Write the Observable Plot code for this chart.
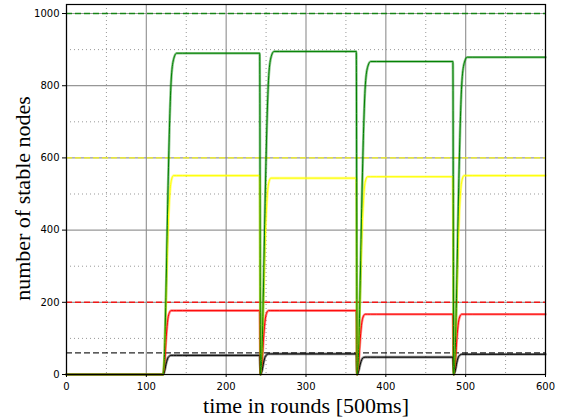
<!DOCTYPE html>
<html>
<head>
<meta charset="utf-8">
<script src="https://cdn.jsdelivr.net/npm/d3@7"></script>
<script src="https://cdn.jsdelivr.net/npm/@observablehq/plot@0.6"></script>
<style>
  html, body { margin: 0; padding: 0; background: #fff; }
  #chart svg { display: block; }
</style>
</head>
<body>
<div id="chart"></div>
<script>
// ---- data ----
const times = [
  0, 121, 123, 125, 127, 129, 131, 134, 138, 145, 242,
  243, 245, 247, 249, 251, 253, 256, 260, 267, 363,
  364, 366, 368, 370, 372, 374, 377, 381, 388, 484,
  485, 487, 489, 491, 493, 495, 498, 502, 509, 600
];
const greenVals = [
  0, 0, 71, 267, 498, 685, 810, 872, 890, 890, 890,
  0, 72, 269, 501, 689, 814, 877, 895, 895, 895,
  0, 69, 260, 486, 668, 789, 850, 867, 867, 867,
  0, 70, 264, 492, 677, 800, 861, 879, 879, 879
];
const yellowVals = [
  0, 0, 66, 231, 386, 485, 534, 551, 551, 551, 551,
  0, 65, 228, 381, 479, 528, 544, 544, 544, 544,
  0, 66, 230, 384, 482, 532, 548, 548, 548, 548,
  0, 66, 231, 386, 485, 534, 551, 551, 551, 551
];
const redVals = [
  0, 0, 35, 106, 154, 172, 177, 177, 177, 177, 177,
  0, 35, 106, 154, 172, 177, 177, 177, 177, 177,
  0, 33, 100, 145, 162, 167, 167, 167, 167, 167,
  0, 33, 100, 145, 162, 167, 167, 167, 167, 167
];
const blackVals = [
  0, 0, 11, 32, 46, 51, 53, 53, 53, 53, 53,
  0, 11, 34, 50, 55, 57, 57, 57, 57, 57,
  0, 10, 29, 42, 47, 48, 48, 48, 48, 48,
  0, 11, 34, 49, 54, 56, 56, 56, 56, 56
];
const seriesNames = ["black", "red", "yellow", "green"];
const referenceLevels = [60, 200, 600, 1000];   // same order as seriesNames
const xMajorTicks = [0, 100, 200, 300, 400, 500, 600];
const xMinorTicks = [50, 150, 250, 350, 450, 550];
const yMajorTicks = [0, 200, 400, 600, 800, 1000];
const yMinorTicks = [100, 300, 500, 700, 900];
const xLabel = "time in rounds [500ms]";
const yLabel = "number of stable nodes";

// ---- build tables ----
const valueSets = [blackVals, redVals, yellowVals, greenVals];
const rows = [];
seriesNames.forEach((s, k) => {
  times.forEach((t, i) => rows.push({t, v: valueSets[k][i], s}));
});
const refRows = seriesNames.map((s, k) => ({s, v: referenceLevels[k]}));

const colorRange = ["#000000", "#ff0000", "#bfbf00", "#008000"];
const serif = "'Liberation Serif', 'DejaVu Serif', serif";

const chart = Plot.plot({
  width: 566,
  height: 418,
  marginLeft: 66,
  marginRight: 21,
  marginTop: 4,
  marginBottom: 44,
  style: {fontFamily: "'DejaVu Sans', sans-serif", fontSize: "10px", color: "#000", background: "#fff"},
  x: {domain: [0, 600]},
  y: {domain: [0, 1025]},
  color: {type: "ordinal", domain: seriesNames, range: colorRange},
  marks: [
    // grid
    Plot.ruleX(xMinorTicks, {stroke: "#999", strokeWidth: 1, strokeDasharray: "1,3"}),
    Plot.ruleY(yMinorTicks, {stroke: "#999", strokeWidth: 1, strokeDasharray: "1,3"}),
    Plot.ruleX(xMajorTicks, {stroke: "#8c8c8c", strokeWidth: 1.2, strokeOpacity: 0.9}),
    Plot.ruleY(yMajorTicks, {stroke: "#8c8c8c", strokeWidth: 1.2, strokeOpacity: 0.9}),
    // reference dashed levels
    Plot.ruleY(refRows, {y: "v", stroke: "s", strokeWidth: 1.4, strokeDasharray: "6,3", strokeOpacity: 0.85}),
    // thick light lines + thin dark lines
    Plot.line(rows, {x: "t", y: "v", z: "s", stroke: "s", strokeWidth: 2.6, strokeOpacity: 0.45, curve: "monotone-x"}),
    Plot.line(rows, {x: "t", y: "v", z: "s", stroke: "s", strokeWidth: 1, curve: "monotone-x"}),
    // frame
    Plot.frame({stroke: "#000", strokeWidth: 1.2}),
    // axes
    Plot.axisX({ticks: xMajorTicks, tickSize: 3, tickPadding: 5, label: null, tickFormat: d3.format("d")}),
    Plot.axisY({ticks: yMajorTicks, tickSize: 4, tickPadding: 3, label: null, tickFormat: d3.format("d")}),
    // axis titles
    Plot.text([xLabel], {frameAnchor: "bottom", lineAnchor: "middle", textAnchor: "middle", dy: 31, text: d => d, fontFamily: serif, fontSize: 22, fill: "#000"}),
    Plot.text([yLabel], {frameAnchor: "left", lineAnchor: "middle", textAnchor: "middle", dx: -44, dy: 9, rotate: -90, text: d => d, fontFamily: serif, fontSize: 22, fill: "#000"})
  ]
});
document.getElementById("chart").appendChild(chart);
</script>
</body>
</html>
